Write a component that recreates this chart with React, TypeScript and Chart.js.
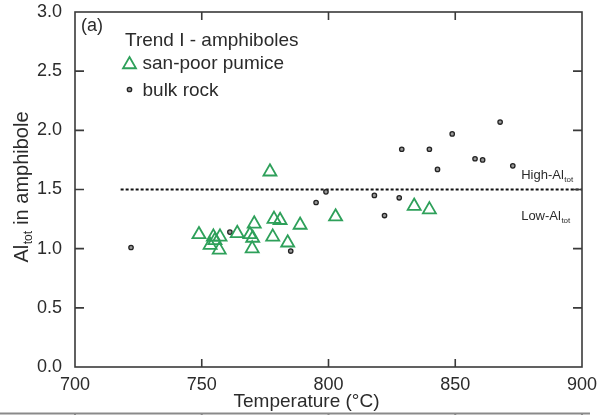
import React, { useEffect, useRef } from 'react';
import { Chart, registerables } from 'chart.js';
Chart.register(...registerables);

const FONT = "'Liberation Sans', Arial, Helvetica, sans-serif";
const TEXT = '#2b2b2b';
const GREEN = '#2ea05a';

const xTickValues = [700, 750, 800, 850, 900];
const yTickValues = [0, 0.5, 1, 1.5, 2, 2.5, 3];

const pumiceT = [776.9, 748.9, 754.6, 755.2, 753.3, 757.2, 756.9, 764.0, 769.0, 770.1, 770.7, 769.9, 778.0, 778.5, 780.9, 783.9, 788.8, 802.8, 833.8, 839.8];
const pumiceAl = [1.65, 1.12, 1.10, 1.07, 1.03, 1.10, 0.99, 1.13, 1.12, 1.09, 1.21, 1.00, 1.10, 1.25, 1.24, 1.05, 1.20, 1.27, 1.36, 1.33];

const bulkT = [722.1, 761.1, 785.1, 795.1, 799.0, 818.1, 822.1, 827.9, 828.9, 839.8, 843.0, 848.8, 857.8, 860.8, 867.7, 872.7];
const bulkAl = [1.01, 1.14, 0.98, 1.39, 1.48, 1.45, 1.28, 1.43, 1.84, 1.84, 1.67, 1.97, 1.76, 1.75, 2.07, 1.70];

const boundaryT = [718, 900];
const boundaryAl = [1.5, 1.5];

const labelHigh = { x: 876, y: 1.63, main: 'High-Al', sub: 'tot' };
const labelLow = { x: 876, y: 1.285, main: 'Low-Al', sub: 'tot' };

const decorPlugin = {
  id: 'decor',
  afterDraw(chart: any) {
    const ctx = chart.ctx;
    const { left, right, top, bottom } = chart.chartArea;
    const xs = chart.scales.x;
    const ys = chart.scales.y;
    ctx.save();
    // frame
    ctx.strokeStyle = '#3a3a3a';
    ctx.lineWidth = 1.6;
    ctx.strokeRect(left, top, right - left, bottom - top);
    // inward ticks
    ctx.beginPath();
    xTickValues.slice(1, -1).forEach((v) => {
      const px = xs.getPixelForValue(v);
      ctx.moveTo(px, bottom);
      ctx.lineTo(px, bottom - 8);
      ctx.moveTo(px, top);
      ctx.lineTo(px, top + 8);
    });
    yTickValues.slice(1, -1).forEach((v) => {
      const py = ys.getPixelForValue(v);
      ctx.moveTo(left, py);
      ctx.lineTo(left + 9, py);
      ctx.moveTo(right, py);
      ctx.lineTo(right - 9, py);
    });
    ctx.stroke();

    // High / Low labels
    const drawSub = (lab: any, size: number) => {
      const px = xs.getPixelForValue(lab.x);
      const py = ys.getPixelForValue(lab.y);
      ctx.fillStyle = TEXT;
      ctx.textAlign = 'left';
      ctx.textBaseline = 'alphabetic';
      ctx.font = `${size}px ${FONT}`;
      const base = py + size * 0.36;
      ctx.fillText(lab.main, px, base);
      const w = ctx.measureText(lab.main).width;
      ctx.font = `${Math.round(size * 0.6)}px ${FONT}`;
      ctx.fillText(lab.sub, px + w + 0.5, base + size * 0.25);
    };
    drawSub(labelHigh, 13);
    drawSub(labelLow, 13);

    // legend
    ctx.fillStyle = TEXT;
    ctx.textAlign = 'left';
    ctx.textBaseline = 'middle';
    ctx.font = `18px ${FONT}`;
    ctx.fillText('(a)', 81, 26);
    ctx.font = `19px ${FONT}`;
    ctx.fillText('Trend I - amphiboles', 125, 41);
    ctx.fillText('san-poor pumice', 142.5, 64);
    ctx.fillText('bulk rock', 142.5, 91);
    // legend triangle
    const r = 7.5;
    const cx = 129.5;
    const cy = 64.5;
    ctx.beginPath();
    for (let i = 0; i < 3; i++) {
      const a = (i * 2 * Math.PI) / 3;
      const X = cx + Math.sin(a) * r;
      const Y = cy - Math.cos(a) * r;
      if (i === 0) ctx.moveTo(X, Y);
      else ctx.lineTo(X, Y);
    }
    ctx.closePath();
    ctx.strokeStyle = GREEN;
    ctx.lineWidth = 1.8;
    ctx.stroke();
    // legend dot
    ctx.beginPath();
    ctx.arc(129.5, 89.5, 2.2, 0, Math.PI * 2);
    ctx.fillStyle = '#999';
    ctx.fill();
    ctx.strokeStyle = '#222';
    ctx.lineWidth = 1.3;
    ctx.stroke();

    // axis titles
    ctx.fillStyle = TEXT;
    ctx.font = `19px ${FONT}`;
    ctx.textAlign = 'center';
    ctx.textBaseline = 'middle';
    ctx.fillText('Temperature (°C)', 306.5, 401.5);

    ctx.save();
    ctx.translate(27.5, 187);
    ctx.rotate(-Math.PI / 2);
    ctx.textBaseline = 'alphabetic';
    ctx.textAlign = 'left';
    const f1 = `20px ${FONT}`;
    const f2 = `12px ${FONT}`;
    ctx.font = f1;
    const wAl = ctx.measureText('Al').width;
    const wRest = ctx.measureText(' in amphibole').width;
    ctx.font = f2;
    const wSub = ctx.measureText('tot').width;
    const total = wAl + wSub + wRest + 1;
    let x0 = -total / 2;
    ctx.font = f1;
    ctx.fillText('Al', x0, 0);
    x0 += wAl + 0.5;
    ctx.font = f2;
    ctx.fillText('tot', x0, 4);
    x0 += wSub + 0.5;
    ctx.font = f1;
    ctx.fillText(' in amphibole', x0, 0);
    ctx.restore();

    // next panel's top frame
    ctx.strokeStyle = '#8a8a8a';
    ctx.lineWidth = 2;
    ctx.beginPath();
    ctx.moveTo(0, 413.5);
    ctx.lineTo(590, 413.5);
    xTickValues.forEach((v) => {
      const px = xs.getPixelForValue(v);
      ctx.moveTo(px, 413.5);
      ctx.lineTo(px, 417);
    });
    ctx.stroke();
    ctx.restore();
  },
};

export default function App() {
  const ref = useRef<HTMLCanvasElement | null>(null);
  useEffect(() => {
    if (!ref.current) return;
    const chart = new Chart(ref.current, {
      type: 'scatter',
      data: {
        datasets: [
          {
            label: 'san-poor pumice',
            data: pumiceT.map((t, i) => ({ x: t, y: pumiceAl[i] })),
            pointStyle: 'triangle',
            pointRadius: 7.5,
            borderColor: GREEN,
            borderWidth: 1.8,
            backgroundColor: 'rgba(0,0,0,0)',
          },
          {
            label: 'bulk rock',
            data: bulkT.map((t, i) => ({ x: t, y: bulkAl[i] })),
            pointStyle: 'circle',
            pointRadius: 2.2,
            borderColor: '#222',
            borderWidth: 1.3,
            backgroundColor: '#999',
          },
          {
            type: 'line',
            label: 'boundary',
            data: boundaryT.map((t, i) => ({ x: t, y: boundaryAl[i] })),
            borderColor: '#111',
            borderWidth: 2,
            borderDash: [3, 2],
            pointRadius: 0,
            fill: false,
          } as any,
        ],
      },
      options: {
        animation: false,
        responsive: false,
        devicePixelRatio: 1,
        layout: { padding: { top: 12, right: 22, left: 0, bottom: 0 } },
        plugins: { legend: { display: false }, tooltip: { enabled: false } },
        scales: {
          x: {
            type: 'linear',
            min: 700,
            max: 900,
            afterBuildTicks: (s: any) => {
              s.ticks = xTickValues.map((v) => ({ value: v }));
            },
            afterFit: (s: any) => {
              s.height = 48;
              s.paddingLeft = 0;
              s.paddingRight = 0;
              s.paddingTop = 0;
              s.paddingBottom = 0;
            },
            grid: { display: false, drawTicks: false },
            border: { display: false },
            ticks: {
              font: { size: 18, family: FONT },
              color: TEXT,
              padding: 7,
              maxRotation: 0,
              autoSkip: false,
              callback: (v: any) => String(v),
            },
          },
          y: {
            type: 'linear',
            min: 0,
            max: 3,
            afterBuildTicks: (s: any) => {
              s.ticks = yTickValues.map((v) => ({ value: v }));
            },
            afterFit: (s: any) => {
              s.width = 75;
              s.paddingLeft = 0;
              s.paddingRight = 0;
              s.paddingTop = 0;
              s.paddingBottom = 0;
            },
            grid: { display: false, drawTicks: false },
            border: { display: false },
            ticks: {
              font: { size: 18, family: FONT },
              color: TEXT,
              padding: 13,
              autoSkip: false,
              callback: (v: any) => Number(v).toFixed(1),
            },
          },
        },
      },
      plugins: [decorPlugin],
    });
    return () => chart.destroy();
  }, []);
  return (
    <div style={{ position: 'absolute', left: 0, top: 0, width: 604, height: 415, background: '#fff' }}>
      <canvas ref={ref} width={604} height={415} />
    </div>
  );
}
